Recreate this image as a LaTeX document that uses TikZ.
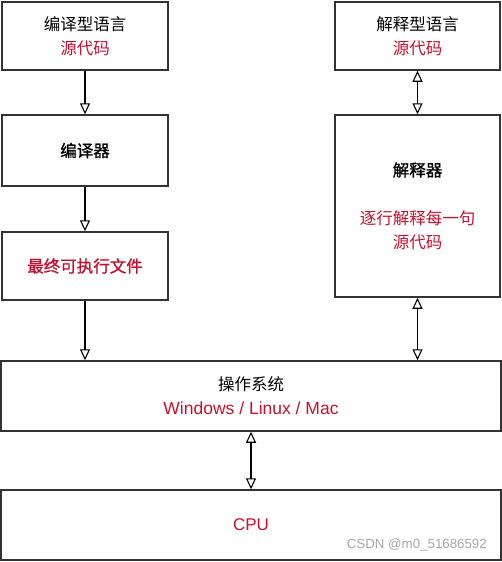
\documentclass[tikz,border=0pt]{standalone}
\usepackage{fontspec}
\setmainfont{Noto Sans CJK SC}
\newfontfamily\cu[FakeBold=1.2]{Noto Sans CJK SC}
\newfontfamily\xiwen{Liberation Sans}
\usetikzlibrary{arrows.meta}
\definecolor{hongse}{RGB}{200,16,46}
\definecolor{xian}{RGB}{51,51,51}
\tikzset{
  kuang/.style={draw=xian, line width=1.5pt, inner sep=0pt, align=center,
    font=\fontsize{16.5}{24}\selectfont},
  lian/.style={draw=black, line width=1.1pt, -{Triangle[open, length=11pt, width=10pt]}},
  shuang/.style={lian, {Triangle[open, length=11pt, width=10pt]}-{Triangle[open, length=11pt, width=10pt]}},
  hong/.style={text=hongse}
}
\begin{document}
\begin{tikzpicture}[x=1pt, y=-1pt]
            \useasboundingbox (0,0) rectangle (502,562);
            % left column: compiled language
            \node[kuang, minimum width=166pt, minimum height=68pt] (bianyiyuyan) at (85,36) {编译型语言\\\textcolor{hongse}{源代码}};
            \node[kuang, minimum width=166pt, minimum height=71pt] (bianyiqi) at (85,150.5) {\cu 编译器};
            \node[kuang, hong, minimum width=166pt, minimum height=68pt] (zuizhong) at (85,266) {\cu 最终可执行文件};
            % right column: interpreted language
            \node[kuang, minimum width=165pt, minimum height=68pt] (jieshiyuyan) at (417.5,36) {解释型语言\\\textcolor{hongse}{源代码}};
            \node[kuang, minimum width=165pt, minimum height=182pt] (jieshiqi) at (417.5,206) {{\cu 解释器}\\[24pt]\textcolor{hongse}{逐行解释每一句}\\\textcolor{hongse}{源代码}};
            % bottom
            \node[kuang, minimum width=500pt, minimum height=70pt] (xitong) at (251,396) {操作系统\\\textcolor{hongse}{\xiwen\fontsize{17.5}{24}\selectfont Windows / Linux / Mac}};
            \node[kuang, hong, minimum width=500pt, minimum height=70pt, font=\xiwen\fontsize{17}{24}\selectfont] (cpu) at (251,525) {CPU};
            \node[text=black!35, font=\xiwen\fontsize{13.3}{14}\selectfont, anchor=east, inner sep=0pt] (shuiyin) at (487,545) {CSDN @m0\_51686592};
            % arrows
            \draw[lian] (bianyiyuyan) -- (bianyiqi);
            \draw[lian] (bianyiqi) -- (zuizhong);
            \draw[lian] (zuizhong.south) -- (zuizhong.south |- xitong.north);
            \draw[shuang] (jieshiyuyan) -- (jieshiqi);
            \draw[shuang] (jieshiqi.south) -- (jieshiqi.south |- xitong.north);
            \draw[shuang] (xitong) -- (cpu);
\end{tikzpicture}
\end{document}
